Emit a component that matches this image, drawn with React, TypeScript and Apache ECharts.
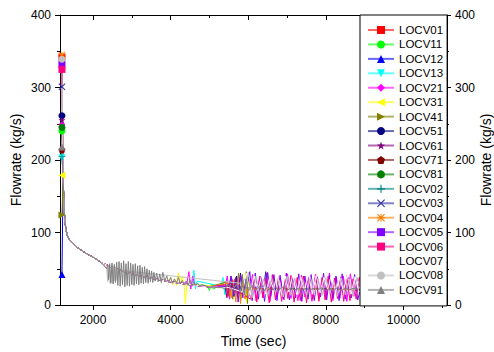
import React, { useEffect, useRef } from 'react';
import * as echarts from 'echarts';

const names = ['LOCV01', 'LOCV11', 'LOCV12', 'LOCV13', 'LOCV21', 'LOCV31', 'LOCV41', 'LOCV51', 'LOCV61', 'LOCV71', 'LOCV81', 'LOCV02', 'LOCV03', 'LOCV04', 'LOCV05', 'LOCV06', 'LOCV07', 'LOCV08', 'LOCV91'];
const colors = ['#ff0000', '#00ff00', '#0000ff', '#00ffff', '#ff00ff', '#ffff00', '#808000', '#000080', '#800080', '#800000', '#008000', '#008080', '#3030a0', '#ff8000', '#8000ff', '#ff0080', '#ffffff', '#c0c0c0', '#808080'];
const symbols = [
  'rect',
  'circle',
  'triangle',
  'path://M0,0 L10,0 L5,10 Z',
  'diamond',
  'path://M0,5 L10,0 L10,10 Z',
  'path://M0,0 L10,5 L0,10 Z',
  'circle',
  'path://M5,0 L6.2,3.6 L10,3.6 L6.9,5.9 L8.1,9.5 L5,7.3 L1.9,9.5 L3.1,5.9 L0,3.6 L3.8,3.6 Z',
  'path://M5,0 L10,3.8 L8.1,10 L1.9,10 L0,3.8 Z',
  'circle',
  'path://M4.3,0 H5.7 V4.3 H10 V5.7 H5.7 V10 H4.3 V5.7 H0 V4.3 H4.3 Z',
  'path://M1,0 L5,4 L9,0 L10,1 L6,5 L10,9 L9,10 L5,6 L1,10 L0,9 L4,5 L0,1 Z',
  'path://M4.4,0 H5.6 V10 H4.4 Z M0,4.4 H10 V5.6 H0 Z M1,0 L5,4 L9,0 L10,1 L6,5 L10,9 L9,10 L5,6 L1,10 L0,9 L4,5 L0,1 Z',
  'path://M0,4.2 H10 V5.8 H0 Z',
  'path://M4.2,0 H5.8 V10 H4.2 Z',
  'none',
  'circle',
  'triangle',
];

const startTime = 1200;
const startValues = [342, 240, 42, 203, 249, 179, 124, 261, 255, 214, 245, 205, 301, 345, 332, 325, 300, 339, 218];

const decayT = [1230, 1260, 1300, 1350, 1400, 1500, 1600, 1800, 2000, 2200, 2400, 2600, 2800, 3000, 3300, 3600, 4000, 4500, 5000, 5500, 6000, 7000, 8000, 9000, 10000, 11120];
const decayV = [175, 128, 104, 94, 89, 84, 79, 72, 66, 59, 54, 50, 46, 43, 39, 36, 32, 28, 25, 24, 23, 22, 22, 21, 21, 21];

const oscT_LOCV13 = [4560, 4600, 4640, 4680, 5300, 5350, 5400, 5450];
const oscV_LOCV13 = [30, 48, 22, 33, 26, 38, 14, 28];

const oscT_LOCV11 = [4950, 5000, 5050, 5100, 5350, 5400, 5450];
const oscV_LOCV11 = [27, 20, 29, 22, 30, 16, 26];

const oscT_LOCV21 = [4420, 4470, 4520, 4570, 4620, 5400, 5460, 5520, 5580, 5640, 6020, 6110, 6200, 6290, 6380, 6470, 6560, 6650, 6740, 6830, 6920, 7010, 7100, 7190, 7280, 7370, 7460, 7550, 7640, 7730, 7820, 7910, 8000, 8090, 8180, 8270, 8360, 8450, 8540, 8630, 8720, 8810, 8900];
const oscV_LOCV21 = [30, 46, 22, 40, 27, 24, 40, 8, 36, 18, 12, 42, 6, 38, 10, 44, 5, 40, 12, 36, 7, 43, 9, 37, 6, 41, 11, 39, 5, 42, 8, 36, 10, 44, 6, 38, 9, 40, 5, 43, 12, 37, 23];

const oscT_LOCV31 = [3950, 4000, 4050, 4100, 4150, 4200, 4250, 4300, 4350, 4380, 4420, 4460, 5900, 5930, 5960, 5990, 6020];
const oscV_LOCV31 = [32, 38, 28, 36, 27, 44, 30, 40, 26, 2, 30, 28, 24, 44, 4, 40, 22];

const oscT_LOCV41 = [5450, 5500, 5550, 5600, 5650, 5700, 5750, 5800, 5850, 5900, 5950, 5980, 6010, 6050];
const oscV_LOCV41 = [32, 12, 40, 8, 36, 14, 44, 6, 42, 10, 46, 2, 38, 22];

const oscT_LOCV04 = [5500, 5560, 5620, 5680, 5740, 5800, 5860, 5920, 5960];
const oscV_LOCV04 = [30, 10, 34, 4, 38, 2, 30, 8, 24];

const oscT_LOCV12 = [5600, 5650, 5700, 5750, 5800];
const oscV_LOCV12 = [30, 12, 38, 16, 24];

const oscT_LOCV51 = [5650, 5700, 5750, 5800, 5850];
const oscV_LOCV51 = [28, 40, 18, 44, 24];

const oscT_LOCV03 = [6400, 6450, 6500, 6550];
const oscV_LOCV03 = [26, 46, 20, 24];

const oscT_LOCV61 = [5400, 5450, 5500];
const oscV_LOCV61 = [26, 10, 30];

const oscT_LOCV05 = [5500, 5560, 5620, 5680, 5740, 5800, 5860, 5920, 5980, 6040, 6100, 6180, 6260, 6340, 6420, 6500, 6580, 6660, 6740, 6820, 6900, 6980, 7060, 7140, 7220, 7300, 7380, 7460, 7540, 7620, 7700, 7780, 7860, 7940, 8020, 8100, 8180, 8260, 8340, 8420, 8500, 8580, 8660, 8740, 8820, 8900];
const oscV_LOCV05 = [26, 40, 12, 38, 4, 42, 10, 36, 30, 46, 6, 44, 8, 40, 5, 45, 12, 42, 6, 41, 9, 44, 7, 38, 10, 43, 5, 40, 8, 42, 6, 39, 11, 44, 7, 41, 9, 40, 6, 43, 8, 38, 10, 42, 7, 24];

const oscT_LOCV06 = [5420, 5470, 5520, 6060, 6140, 6220, 6300, 6380, 6460, 6540, 6620, 6700, 6780, 6860, 6940, 7020, 7100, 7180, 7260, 7340, 7420, 7500, 7580, 7660, 7740, 7820, 7900, 7980, 8060, 8140, 8220, 8300, 8380, 8460, 8540, 8620, 8700, 8780, 8860, 8920];
const oscV_LOCV06 = [28, 12, 26, 8, 38, 4, 40, 10, 36, 3, 42, 7, 39, 5, 37, 9, 41, 4, 38, 6, 40, 3, 36, 8, 42, 5, 38, 7, 40, 4, 37, 9, 39, 5, 41, 6, 36, 8, 38, 22];

const oscT_LOCV07 = [5850, 5950, 6050, 6150, 6250, 6350, 6450, 6550, 6650, 6750, 6850, 6950, 7050, 7150, 7250, 7350, 7450, 7550, 7650, 7750, 7850, 7950, 8050, 8150, 8250, 8350, 8450, 8550, 8650, 8750, 8850, 8950];
const oscV_LOCV07 = [18, 44, 14, 40, 20, 42, 15, 38, 22, 44, 16, 40, 18, 42, 14, 39, 20, 43, 15, 41, 17, 38, 21, 44, 16, 40, 19, 42, 15, 39, 18, 22];

const oscT_LOCV08 = [2350, 2380, 2410, 2440, 2470, 2500, 2530, 2560, 2590, 2620, 2650, 5800, 5900, 6000, 6100, 6200, 6300, 6400, 6500, 6600, 6700, 6800, 6900, 7000, 7100, 7200, 7300, 7400, 7500, 7600, 7700, 7800, 7900, 8000, 8100, 8200, 8300, 8400, 8500, 8600, 8700, 8800, 8900];
const oscV_LOCV08 = [52, 32, 54, 30, 55, 31, 53, 33, 50, 34, 48, 30, 12, 45, 10, 40, 14, 36, 12, 38, 16, 34, 11, 40, 13, 37, 15, 35, 12, 39, 14, 36, 13, 38, 15, 34, 12, 37, 14, 36, 13, 38, 22];

const oscT_LOCV91 = [2350, 2380, 2400, 2430, 2460, 2490, 2520, 2550, 2580, 2610, 2640, 2670, 2700, 2730, 2760, 2790, 2820, 2850, 2880, 2910, 2940, 2970, 3000, 3030, 3060, 3090, 3120, 3150, 3180, 3210, 3240, 3270, 3300, 3330, 3360, 3390, 3420, 3450, 3480, 3510, 3540, 3570, 3600, 3640, 3680, 3720, 3760, 3800, 3850, 3900, 3950, 4000, 4050, 4100, 4150, 4200, 4250, 4300, 4350, 4400, 4450, 4500, 4550, 4600, 4650, 4700, 4750, 4800, 4900, 5000, 5100, 5200, 5300,
  5400, 5500, 5600, 5700, 5800, 5850, 5900, 5950, 6000, 6100, 6200, 6300, 6400, 6500, 6600, 6700, 6800, 6900, 7000, 7100, 7200, 7300, 7400, 7500, 7600, 7700, 7800, 7900, 8000, 8100, 8200, 8300, 8400, 8500, 8600, 8700, 8800, 8900];
const oscV_LOCV91 = [50, 55, 35, 57, 30, 58, 29, 56, 31, 59, 27, 60, 26, 58, 28, 61, 25, 57, 27, 60, 26, 58, 28, 56, 27, 57, 29, 54, 28, 55, 30, 52, 29, 53, 31, 50, 30, 48, 32, 47, 31, 45, 33, 44, 32, 43, 31, 45, 33, 40, 31, 38, 30, 36, 30, 38, 29, 34, 28, 33, 27, 35, 26, 32, 27, 30, 26, 28, 26, 25, 25, 24, 24,
  23, 27, 20, 29, 17, 38, 14, 36, 19, 27, 20, 26, 19, 25, 20, 24, 21, 25, 20, 24, 21, 23, 20, 24, 21, 23, 21, 24, 20, 23, 21, 24, 20, 23, 21, 23, 22, 22];

const osc: Record<string, [number[], number[]]> = {
  LOCV13: [oscT_LOCV13, oscV_LOCV13],
  LOCV11: [oscT_LOCV11, oscV_LOCV11],
  LOCV21: [oscT_LOCV21, oscV_LOCV21],
  LOCV31: [oscT_LOCV31, oscV_LOCV31],
  LOCV41: [oscT_LOCV41, oscV_LOCV41],
  LOCV04: [oscT_LOCV04, oscV_LOCV04],
  LOCV12: [oscT_LOCV12, oscV_LOCV12],
  LOCV51: [oscT_LOCV51, oscV_LOCV51],
  LOCV03: [oscT_LOCV03, oscV_LOCV03],
  LOCV61: [oscT_LOCV61, oscV_LOCV61],
  LOCV05: [oscT_LOCV05, oscV_LOCV05],
  LOCV06: [oscT_LOCV06, oscV_LOCV06],
  LOCV07: [oscT_LOCV07, oscV_LOCV07],
  LOCV08: [oscT_LOCV08, oscV_LOCV08],
  LOCV91: [oscT_LOCV91, oscV_LOCV91],
};

const xMajorTicks = [2000, 4000, 6000, 8000, 10000];
const xMinorTicks = [3000, 5000, 7000, 9000, 11000];

function buildSeries(i: number): number[][] {
  const entry = osc[names[i]];
  const pts: number[][] = [[startTime, startValues[i]]];
  if (!entry) {
    decayT.forEach((t, k) => pts.push([t, decayV[k]]));
    return pts;
  }
  const ot = entry[0];
  const ov = entry[1];
  const first = ot[0];
  const last = ot[ot.length - 1];
  decayT.forEach((t, k) => { if (t < first) pts.push([t, decayV[k]]); });
  const n = Math.min(ot.length, ov.length);
  for (let k = 0; k < n; k++) pts.push([ot[k], ov[k]]);
  decayT.forEach((t, k) => { if (t > last) pts.push([t, decayV[k]]); });
  return pts;
}

const FONT = 'Liberation Sans, Arial, sans-serif';

export default function App() {
  const ref = useRef<HTMLDivElement>(null);
  useEffect(() => {
    if (!ref.current) return;
    const chart = echarts.init(ref.current, undefined, { renderer: 'svg' });
    const xMin = 1150;
    const xMax = 11120;
    const lineSeries: any[] = names.map((n, i) => ({
      type: 'line',
      name: n,
      data: buildSeries(i),
      symbol: symbols[i],
      symbolSize: 7,
      showSymbol: false,
      color: colors[i],
      lineStyle: { width: 1, color: colors[i] },
      itemStyle: { color: colors[i] },
      silent: true,
      z: 2,
    }));
    const markerSeries: any[] = names
      .map((n, i) => ({ n, i }))
      .filter((o) => symbols[o.i] !== 'none')
      .map(({ n, i }) => ({
        type: 'scatter',
        name: n + ' start',
        data: [[startTime, startValues[i]]],
        symbol: symbols[i],
        symbolSize: 7,
        itemStyle: { color: colors[i], opacity: 1 },
        silent: true,
        z: 3,
      }));
    const axisLine = { show: true, lineStyle: { color: '#000', width: 1 } };
    const fmt = (v: number) => String(v);
    chart.setOption({
      animation: false,
      backgroundColor: '#fff',
      textStyle: { fontFamily: FONT },
      grid: { left: 60, right: 47, top: 15, bottom: 47, containLabel: false, outerBoundsMode: 'none' },
      legend: {
        orient: 'vertical',
        left: 360,
        top: 15,
        data: names,
        padding: [9, 4, 10, 7],
        itemWidth: 26,
        itemHeight: 10,
        itemGap: 2.44,
        backgroundColor: '#fff',
        borderColor: '#000',
        borderWidth: 1,
        textStyle: { fontSize: 11.5, color: '#000', fontFamily: FONT },
        lineStyle: { width: 2, opacity: 0.6 },
        selectedMode: false,
      },
      xAxis: [
        {
          type: 'value', min: xMin, max: xMax, position: 'bottom',
          name: 'Time (sec)', nameLocation: 'middle', nameGap: 29, nameMoveOverlap: false,
          nameTextStyle: { fontSize: 14, color: '#000', fontFamily: FONT },
          axisLine,
          axisTick: { show: true, inside: false, length: 5, customValues: xMajorTicks, lineStyle: { color: '#000' } },
          axisLabel: { show: true, customValues: xMajorTicks, formatter: fmt, fontSize: 12, color: '#000', margin: 9, fontFamily: FONT },
          splitLine: { show: false },
        },
        {
          type: 'value', min: xMin, max: xMax, position: 'bottom',
          axisLine: { show: false },
          axisTick: { show: true, inside: false, length: 3, customValues: xMinorTicks, lineStyle: { color: '#000' } },
          axisLabel: { show: false },
          splitLine: { show: false },
        },
        {
          type: 'value', min: xMin, max: xMax, position: 'top',
          axisLine,
          axisTick: { show: true, inside: true, length: 5, customValues: xMajorTicks, lineStyle: { color: '#000' } },
          axisLabel: { show: false },
          splitLine: { show: false },
        },
        {
          type: 'value', min: xMin, max: xMax, position: 'top',
          axisLine: { show: false },
          axisTick: { show: true, inside: true, length: 3, customValues: xMinorTicks, lineStyle: { color: '#000' } },
          axisLabel: { show: false },
          splitLine: { show: false },
        },
      ],
      yAxis: [
        {
          type: 'value', min: 0, max: 400, interval: 100, position: 'left',
          name: 'Flowrate (kg/s)', nameLocation: 'middle', nameGap: 37, nameMoveOverlap: false,
          nameTextStyle: { fontSize: 14, color: '#000', fontFamily: FONT },
          axisLine,
          axisTick: { show: true, inside: false, length: 5, lineStyle: { color: '#000' } },
          minorTick: { show: true, splitNumber: 2, length: 3, lineStyle: { color: '#000' } },
          axisLabel: { fontSize: 12, color: '#000', margin: 9, fontFamily: FONT, formatter: fmt },
          splitLine: { show: false },
        },
        {
          type: 'value', min: 0, max: 400, interval: 100, position: 'right',
          name: 'Flowrate (kg/s)', nameLocation: 'middle', nameGap: 32, nameMoveOverlap: false,
          nameTextStyle: { fontSize: 14, color: '#000', fontFamily: FONT },
          axisLine,
          axisTick: { show: true, inside: false, length: 4, lineStyle: { color: '#000' } },
          minorTick: { show: true, splitNumber: 2, length: 2, lineStyle: { color: '#000' } },
          axisLabel: { fontSize: 12, color: '#000', margin: 8, fontFamily: FONT, formatter: fmt },
          splitLine: { show: false },
          z: 10,
        },
      ],
      series: [...lineSeries, ...markerSeries],
    });
    return () => chart.dispose();
  }, []);
  return <div ref={ref} style={{ position: 'fixed', left: 0, top: 0, width: 494, height: 352 }} />;
}
